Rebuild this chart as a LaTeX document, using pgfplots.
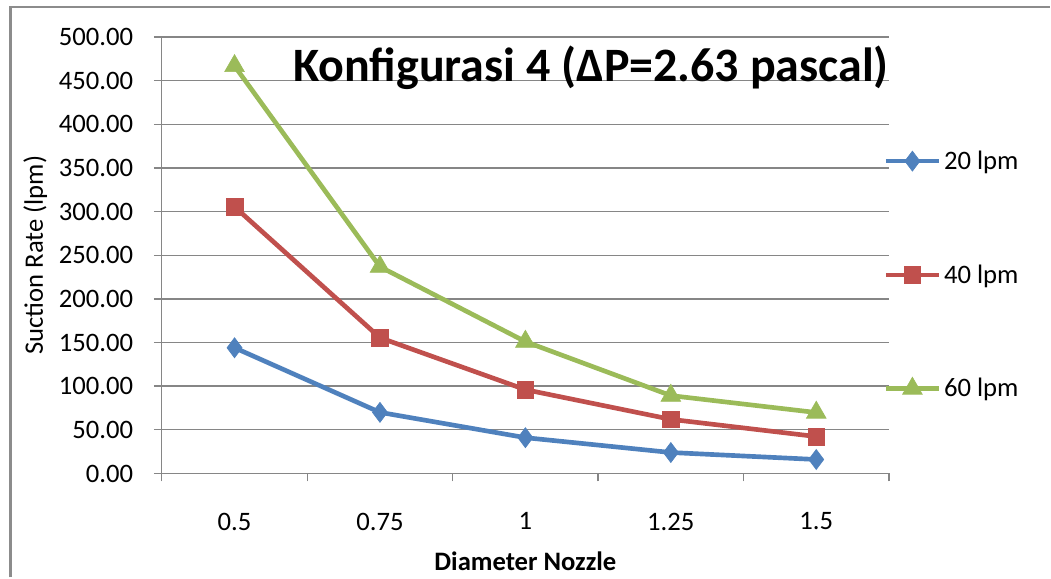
\documentclass[border=0pt]{standalone}
\usepackage{pgfplots}
\pgfplotsset{compat=1.18}
\usepackage{fontspec}
\setmainfont{Carlito}

\definecolor{sblue}{HTML}{4F81BD}
\definecolor{sred}{HTML}{C0504D}
\definecolor{sgreen}{HTML}{9BBB59}
\definecolor{gridgray}{HTML}{868686}
\definecolor{framegray}{HTML}{8C8C8C}

\begin{document}
\begin{tikzpicture}
% page extent and outer frame
\path (0pt,0pt) rectangle (788.25pt,433.5pt);
\draw[framegray, line width=1.8pt] (7.9pt,0pt) -- (7.9pt,428.2pt) -- (788.25pt,428.2pt);

\begin{axis}[
  at={(121.5pt,78pt)}, anchor=south west,
  scale only axis,
  width=546pt, height=327.75pt,
  xmin=-0.5, xmax=4.5,
  ymin=0, ymax=500,
  axis x line*=bottom, axis y line*=left,
  axis line style={gridgray, line width=1pt},
  xtick={0,1,2,3,4},
  xticklabels={0.5,0.75,1,1.25,1.5},
  major x tick style={draw=none},
  minor xtick={-0.5,0.5,1.5,2.5,3.5,4.5},
  minor x tick style={gridgray, line width=1pt},
  minor tick length=6pt,
  ytick={0,50,...,500},
  ymajorgrids,
  major grid style={gridgray, line width=1pt},
  major y tick style={gridgray, line width=1pt},
  major tick length=6pt,
  tick align=outside,
  yticklabel={\pgfmathprintnumber[fixed,fixed zerofill,precision=2]{\tick}},
  /pgf/number format/assume math mode=true,
  ticklabel style={font=\fontsize{20}{24}\selectfont, text=black},
  xticklabel style={yshift=-20pt},
  yticklabel style={xshift=-12pt},
  xlabel={\bfseries Diameter Nozzle},
  xlabel style={font=\fontsize{20}{24}\selectfont, at={(axis description cs:0.5,0)}, anchor=center, yshift=-66pt},
  ylabel={Suction Rate (lpm)},
  ylabel style={font=\fontsize{20}{24}\selectfont, at={(axis description cs:0,0.5)}, anchor=center, yshift=95pt},
  clip=false,
  legend style={draw=none, fill=none, at={(axis description cs:0.992,0.455)}, anchor=west,
    font=\fontsize{20}{24}\selectfont, row sep=66pt, inner sep=0pt},
  legend cell align=left,
  legend image code/.code={
    \draw[#1, mark=none] (0pt,0pt) -- (40pt,0pt);
    \draw[#1, only marks] plot coordinates {(20pt,0pt)};
  },
  every axis plot/.append style={line width=3.5pt},
]
\addplot[sblue, mark=diamond*, mark size=7.5pt, mark options={solid, fill=sblue, line width=0.5pt}]
  coordinates {(0,144) (1,70) (2,41) (3,24) (4,16)};
\addlegendentry{20 lpm}
\addplot[sred, mark=square*, mark size=6.3pt, mark options={solid, fill=sred, line width=0.5pt}]
  coordinates {(0,305.5) (1,155.5) (2,96) (3,62) (4,42.3)};
\addlegendentry{40 lpm}
\addplot[sgreen, mark=triangle*, mark size=8.5pt, mark options={solid, fill=sgreen, line width=0.5pt}]
  coordinates {(0,466.8) (1,236.8) (2,151) (3,89.2) (4,69.8)};
\addlegendentry{60 lpm}

\node[font=\fontsize{36}{42}\selectfont\bfseries, anchor=center]
  at (axis cs:2.45,465) {Konfigurasi 4 (ΔP=2.63 pascal)};
\end{axis}
\end{tikzpicture}
\end{document}
